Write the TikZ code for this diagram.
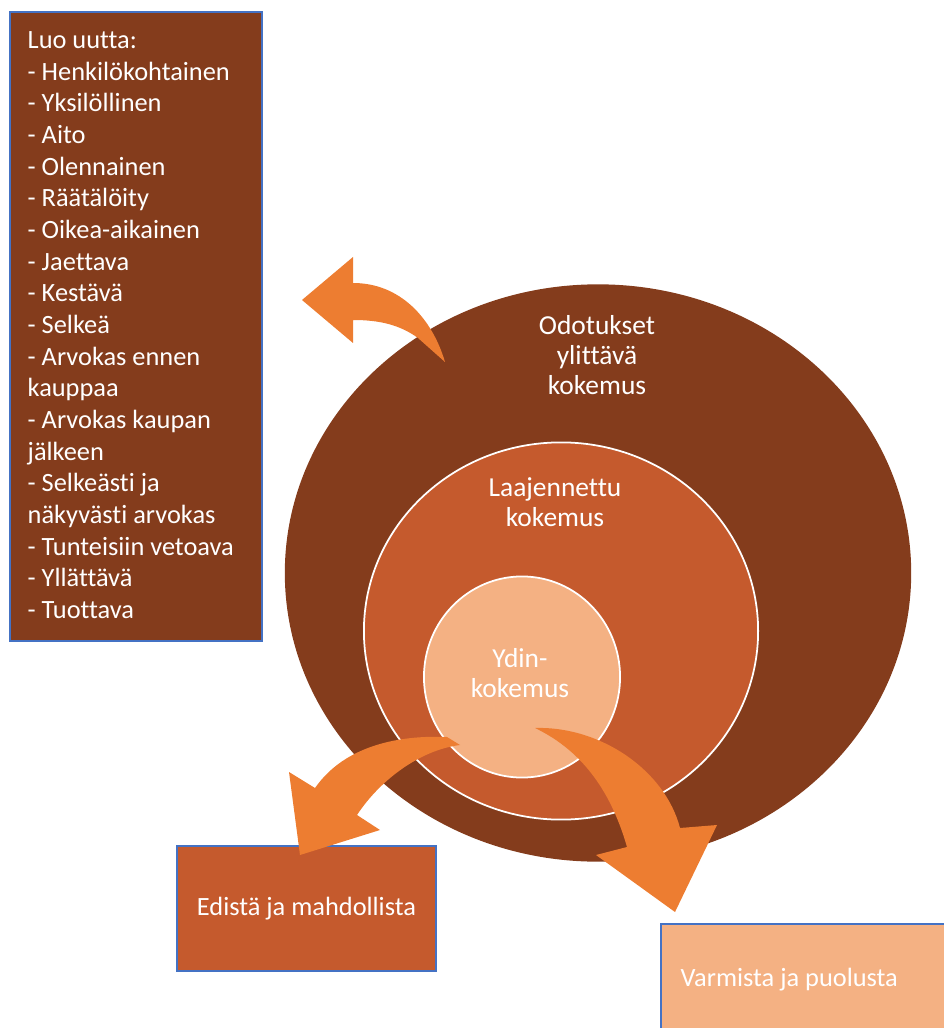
\documentclass[tikz,border=0pt]{standalone}
\usepackage{fontspec}
\setmainfont{Carlito}[Ligatures=NoCommon]
\usepackage{tikz}
\usepackage{xcolor}
\usetikzlibrary{shapes.geometric, positioning}
\definecolor{DarkBrown}{HTML}{843C1C}
\definecolor{MidOrange}{HTML}{C55A2D}
\definecolor{LightPeach}{HTML}{F4B183}
\definecolor{ArrowOrange}{HTML}{ED7D31}
\definecolor{BoxBlue}{HTML}{4472C4}

\begin{document}
\begin{tikzpicture}[x=0.01cm, y=-0.01cm,
    boxtext/.style={text=white, font=\fontsize{7.5pt}{9pt}\selectfont},
    ringtext/.style={text=white, align=center, font=\fontsize{7.8pt}{8.5pt}\selectfont},
    actionbox/.style={draw=BoxBlue, line width=0.5pt, inner sep=0pt, outer sep=0pt},
    ring/.style={ellipse, draw=white, line width=0.5pt, inner sep=0pt, outer sep=0pt},
    bigarrow/.style={fill=ArrowOrange}]
    \useasboundingbox (0,0) rectangle (943,1028);
    % List box
    \node[actionbox, fill=DarkBrown, minimum width=2.52cm, minimum height=6.29cm] (lista) at (136,326.5) {};
    \node[boxtext, anchor=north west, align=left, inner sep=0pt] (listateksti) at (27,31) {Luo uutta:\\
      - Henkilökohtainen\\ - Yksilöllinen\\ - Aito\\ - Olennainen\\ - Räätälöity\\
      - Oikea-aikainen\\ - Jaettava\\ - Kestävä\\ - Selkeä\\ - Arvokas ennen\\ kauppaa\\
      - Arvokas kaupan\\ jälkeen\\ - Selkeästi ja\\ näkyvästi arvokas\\
      - Tunteisiin vetoava\\ - Yllättävä\\ - Tuottava};
    % Outer ring
    \node[ring, draw=none, fill=DarkBrown, minimum width=6.26cm, minimum height=5.77cm] (odotukset) at (598,573) {};
    % Upper arrow
    \fill[bigarrow] (302,300) -- (353,257) -- (353,283) .. controls (400,283) and (432,318) .. (445,362)
      -- (418,338) .. controls (400,325) and (380,320) .. (353,320) -- (353,343) -- cycle;
    % Middle and core rings
    \node[ring, fill=MidOrange, minimum width=3.94cm, minimum height=3.77cm] (laajennettu) at (561,631) {};
    \node[ring, fill=LightPeach, minimum width=1.96cm, minimum height=2.01cm] (ydin) at (522,677) {};
    % Ring labels
    \node[ringtext] (odotuksetteksti) at (597,355) {Odotukset\\ylittävä\\kokemus};
    \node[ringtext] (laajennettuteksti) at (555,502) {Laajennettu\\kokemus};
    \node[ringtext] (ydinteksti) at (520,673) {Ydin-\\kokemus};
    % Action boxes
    \node[actionbox, fill=MidOrange, minimum width=2.59cm, minimum height=1.25cm, boxtext] (edista) at (306.5,908.5) {Edistä ja mahdollista};
    \node[actionbox, fill=LightPeach, anchor=west, minimum width=2.89cm, minimum height=1.12cm] (varmista) at (661,980) {};
    \node[boxtext, anchor=west, inner sep=0pt] (varmistateksti) at (680,980) {Varmista ja puolusta};
    % Lower arrows
    \fill[bigarrow] (300,855) -- (380,830) -- (357,815) .. controls (380,780) and (420,750) .. (460,745)
      -- (447,737) .. controls (400,735) and (345,745) .. (315,788) -- (289,772) -- cycle;
    \fill[bigarrow] (535,728) .. controls (600,726) and (665,770) .. (680,828) -- (717,825) -- (675,912)
      -- (596,855) -- (627,847) .. controls (612,795) and (585,752) .. (535,728) -- cycle;
\end{tikzpicture}
\end{document}
